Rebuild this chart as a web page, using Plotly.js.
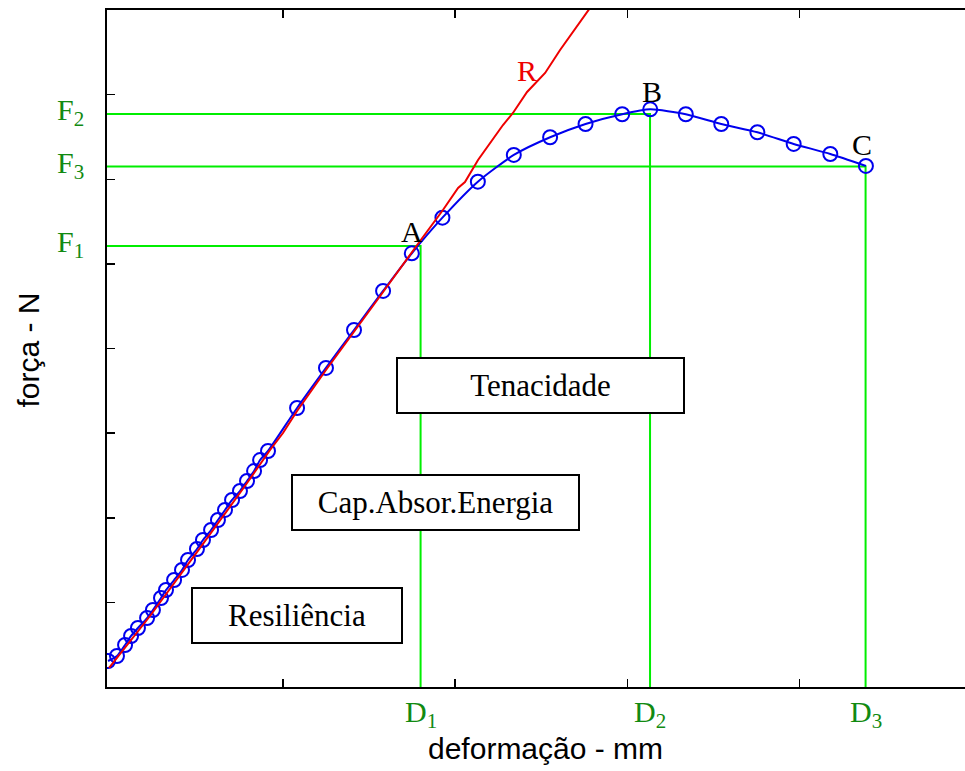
<!DOCTYPE html>
<html>
<head>
<meta charset="utf-8">
<script src="https://cdn.plot.ly/plotly-3.0.1.min.js"></script>
<style>
  html, body { margin: 0; padding: 0; background: #ffffff; }
  #chart { width: 965px; height: 771px; }
</style>
</head>
<body>
<div id="chart"></div>
<script>
// Measured force-deformation curve (open circles joined by a smooth line)
const curveDeformation = [0.006, 0.058, 0.105, 0.140, 0.180, 0.233, 0.267, 0.314, 0.343, 0.390,
  0.436, 0.471, 0.523, 0.558, 0.605, 0.645, 0.686, 0.727, 0.773, 0.814, 0.855, 0.890, 0.936,
  1.105, 1.273, 1.436, 1.605, 1.772, 1.950, 2.156, 2.365, 2.576, 2.782, 2.995, 3.158, 3.365,
  3.571, 3.781, 3.992, 4.205, 4.412];
const curveForce = [0.307, 0.366, 0.496, 0.603, 0.697, 0.815, 0.910, 1.052, 1.146, 1.264,
  1.383, 1.501, 1.631, 1.737, 1.855, 1.973, 2.092, 2.210, 2.316, 2.434, 2.552, 2.682, 2.789,
  3.297, 3.770, 4.219, 4.680, 5.125, 5.546, 5.971, 6.287, 6.496, 6.653, 6.768, 6.826, 6.768,
  6.653, 6.555, 6.417, 6.298, 6.157];

// Straight-line (elastic) reference curve R
const refDeformation = [0.012, 0.250, 0.541, 0.802, 0.948, 1.023, 1.105, 1.273, 1.605, 1.767,
  1.820, 1.953, 2.041, 2.081, 2.157, 2.302, 2.360, 2.442, 2.506, 2.547, 2.634, 2.808];
const refForce = [0.225, 0.839, 1.643, 2.375, 2.801, 3.001, 3.261, 3.746, 4.668, 5.129,
  5.270, 5.637, 5.897, 5.967, 6.227, 6.641, 6.783, 7.031, 7.173, 7.256, 7.527, 8.024];

// Characteristic points: D = deformation, F = force
const pointNames = ['1', '2', '3'];
const pointD = [1.823, 3.157, 4.410];
const pointF = [5.211, 6.771, 6.151];

// Unlabelled tick positions on the two axes
const xTicks = [1.023, 2.024, 3.026, 4.027];
const yTicks = [1, 2, 3, 4, 5, 6, 7];

// Region labels
const regionLabels = ['Resiliência', 'Cap.Absor.Energia', 'Tenacidade'];

const serif = 'Liberation Serif, Times New Roman, serif';
const sans = 'Liberation Sans, Arial, sans-serif';
const guideGreen = '#00ee00';
const labelGreen = '#118a11';

const traces = [];

// Guide lines from each characteristic point to both axes
pointD.forEach((d, i) => {
  traces.push({
    x: [0, d, d],
    y: [pointF[i], pointF[i], 0],
    mode: 'lines',
    line: { color: guideGreen, width: 2 },
    hoverinfo: 'skip',
    showlegend: false
  });
});

traces.push({
  x: curveDeformation,
  y: curveForce,
  mode: 'lines+markers',
  line: { color: '#0000ee', width: 2, shape: 'spline', smoothing: 0.6 },
  marker: { symbol: 'circle-open', size: 14, color: '#0000ee', line: { width: 2, color: '#0000ee' } },
  showlegend: false
});

traces.push({
  x: refDeformation,
  y: refForce,
  mode: 'lines',
  line: { color: '#ee0000', width: 2 },
  showlegend: false
});

const annotations = [];

// F labels on the force axis, D labels under the deformation axis
pointNames.forEach((n, i) => {
  annotations.push({
    xref: 'paper', yref: 'y', x: -0.043, y: pointF[i] + 0.02,
    text: 'F<sub>' + n + '</sub>', showarrow: false,
    xanchor: 'center', yanchor: 'middle',
    font: { family: serif, size: 30, color: labelGreen }
  });
  annotations.push({
    xref: 'x', yref: 'paper', x: pointD[i], y: -0.04,
    text: 'D<sub>' + n + '</sub>', showarrow: false,
    xanchor: 'center', yanchor: 'middle',
    font: { family: serif, size: 30, color: labelGreen }
  });
});

// Point letters
const letterStyle = { family: serif, size: 30, color: '#000000' };
annotations.push({ xref: 'x', yref: 'y', x: 1.772, y: 5.38, text: 'A', showarrow: false, font: letterStyle });
annotations.push({ xref: 'x', yref: 'y', x: 3.168, y: 7.04, text: 'B', showarrow: false, font: letterStyle });
annotations.push({ xref: 'x', yref: 'y', x: 4.390, y: 6.41, text: 'C', showarrow: false, font: letterStyle });
annotations.push({ xref: 'x', yref: 'y', x: 2.442, y: 7.29, text: 'R', showarrow: false,
  font: { family: serif, size: 30, color: '#ee0000' } });

// Boxed region labels
const boxes = [
  { x: 1.105, y: 0.845, w: 208 },
  { x: 1.907, y: 2.186, w: 285 },
  { x: 2.520, y: 3.557, w: 285 }
];
regionLabels.forEach((t, i) => {
  annotations.push({
    xref: 'x', yref: 'y', x: boxes[i].x, y: boxes[i].y,
    text: t, showarrow: false,
    width: boxes[i].w, height: 53, align: 'center', valign: 'middle',
    bgcolor: '#ffffff', bordercolor: '#000000', borderwidth: 2, borderpad: 0,
    font: { family: serif, size: 31, color: '#000000' }
  });
});

// Axis titles
annotations.push({
  xref: 'paper', yref: 'paper', x: 0.511, y: -0.0905,
  text: 'deformação - mm', showarrow: false, xanchor: 'center', yanchor: 'middle',
  font: { family: sans, size: 30, color: '#000000' }
});
annotations.push({
  xref: 'paper', yref: 'paper', x: -0.092, y: 0.497,
  text: 'força - N', showarrow: false, textangle: -90, xanchor: 'center', yanchor: 'middle',
  font: { family: sans, size: 30, color: '#000000' }
});

const layout = {
  width: 965,
  height: 771,
  margin: { l: 107, r: 0, t: 10, b: 84, pad: 0 },
  paper_bgcolor: '#ffffff',
  plot_bgcolor: '#ffffff',
  showlegend: false,
  xaxis: {
    range: [0, 4.988],
    showline: true, linecolor: '#000000', linewidth: 2,
    mirror: 'ticks',
    ticks: 'inside', tickvals: xTicks, ticklen: 8, tickwidth: 1.5, tickcolor: '#000000',
    showticklabels: false, showgrid: false, zeroline: false
  },
  yaxis: {
    range: [0, 8],
    showline: true, linecolor: '#000000', linewidth: 2,
    mirror: false,
    ticks: 'inside', tickvals: yTicks, ticklen: 8, tickwidth: 1.5, tickcolor: '#000000',
    showticklabels: false, showgrid: false, zeroline: false
  },
  annotations: annotations
};

Plotly.newPlot('chart', traces, layout, { displayModeBar: false, staticPlot: true });
</script>
</body>
</html>
